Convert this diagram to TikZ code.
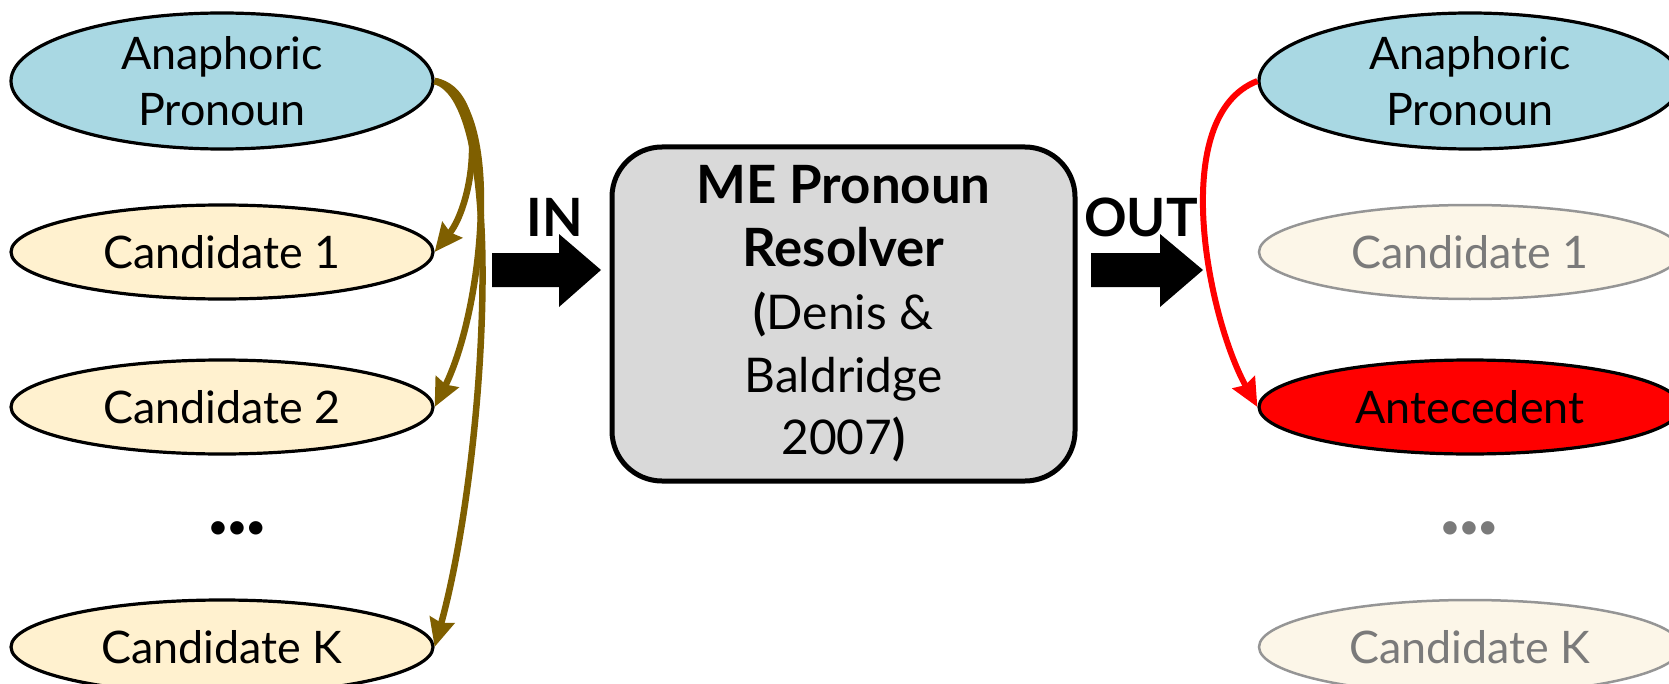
\documentclass[tikz,border=0pt]{standalone}
\usepackage{fontspec}
\setmainfont{Lato}
\usetikzlibrary{arrows.meta,shapes.geometric}

\definecolor{pronounblue}{HTML}{A9D8E3}
\definecolor{candcream}{HTML}{FFF1CF}
\definecolor{fadedcream}{HTML}{FCF6E8}
\definecolor{fadedgray}{HTML}{7A7A7A}
\definecolor{linkbrown}{HTML}{7F5F00}
\definecolor{boxgray}{HTML}{D9D9D9}
\definecolor{pickred}{HTML}{FF0000}

\newcommand{\bigbold}[1]{{\fontsize{53}{63}\selectfont\bfseries #1}}

\tikzset{
  txt/.style={font=\fontsize{45}{56}\selectfont},
  mention/.style={ellipse, draw=black, line width=3.2bp, inner sep=0,
    minimum width=422bp, minimum height=94bp, txt},
  pronoun/.style={mention, fill=pronounblue, minimum height=136bp, align=center},
  candidate/.style={mention, fill=candcream},
  faded/.style={mention, fill=fadedcream, draw=fadedgray!80, line width=2.5bp, text=fadedgray},
  chosen/.style={mention, fill=pickred},
  resolver/.style={rectangle, rounded corners=50bp, draw=black, line width=5bp,
    fill=boxgray, minimum width=463bp, minimum height=334bp, align=center,
    font=\fontsize{48}{63}\selectfont},
  flowlabel/.style={font=\fontsize{53}{60}\selectfont\bfseries},
  blockarrow/.style={fill=black},
  dots/.style={font=\fontsize{31}{31}\selectfont\bfseries},
  link/.style={draw=linkbrown, line width=6.5bp, -{Stealth[length=28bp,width=25bp,inset=3bp]}},
  picklink/.style={draw=pickred, line width=6bp, -{Stealth[length=28bp,width=25bp,inset=3bp]}}
}

\begin{document}
\begin{tikzpicture}[x=1bp,y=-1bp]
\useasboundingbox (0,0) rectangle (1669,684);

% input side: pronoun and its candidates
\node[pronoun]   (pL)  at (222,81)  {Anaphoric\\Pronoun};
\node[candidate] (c1L) at (222,252) {Candidate 1};
\node[candidate] (c2L) at (222,407) {Candidate 2};
\node[dots]      (dL)  at (237,530) {•\kern1bp•\kern1bp•};
\node[candidate] (ckL) at (222,647) {Candidate K};

% pronoun paired with every candidate
\draw[link] (pL.east) .. controls +(55,10) and +(40,-50) .. (c1L.east);
\draw[link] (pL.east) .. controls +(70,15) and +(50,-100) .. (c2L.east);
\draw[link] (pL.east) .. controls +(75,20) and +(50,-180) .. (ckL.east);

% resolver
\node[resolver] (res) at (843.5,314)
  {\bigbold{ME Pronoun}\\\bigbold{Resolver}\\\textbf{(}Denis \&\\Baldridge\\2007\textbf{)}};

% IN / OUT block arrows
\coordinate (inTail) at (492,270);
\coordinate (outTail) at (1091,270);
\fill[blockarrow] (inTail) ++(0,-17) -- ++(67,0) -- ++(0,-19) -- (601,270)
  -- (559,307) -- ++(0,-20) -- ++(-67,0) -- cycle;
\fill[blockarrow] (outTail) ++(0,-17) -- ++(69,0) -- ++(0,-19) -- (1203,270)
  -- (1160,307) -- ++(0,-20) -- ++(-69,0) -- cycle;
\node[flowlabel] (inLabel)  at (555,217)  {IN};
\node[flowlabel] (outLabel) at (1141,217) {OUT};

% output side: the chosen antecedent
\node[pronoun] (pR)  at (1470,81)  {Anaphoric\\Pronoun};
\node[faded]   (c1R) at (1470,252) {Candidate 1};
\node[chosen]  (aR)  at (1470,407) {Antecedent};
\node[dots, text=fadedgray] (dR) at (1469,530) {•\kern1bp•\kern1bp•};
\node[faded]   (ckR) at (1470,647) {Candidate K};

\draw[picklink] (pR.west) .. controls +(-90,35) and +(-50,-90) .. (aR.west);
\end{tikzpicture}
\end{document}
